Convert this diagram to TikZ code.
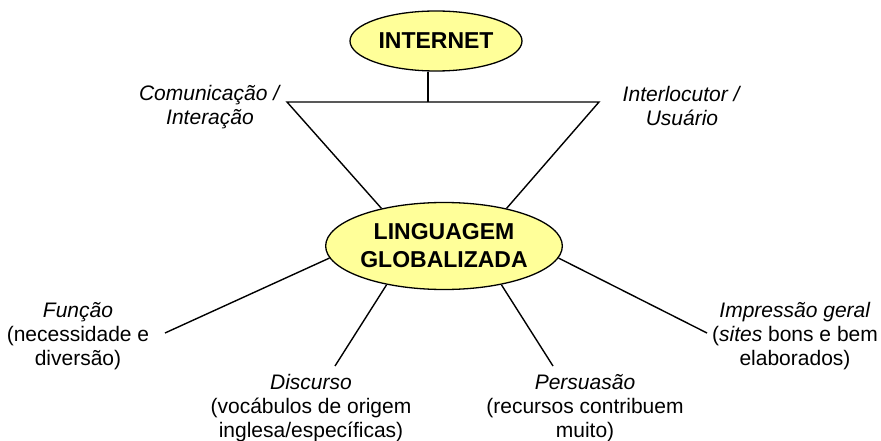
\documentclass[tikz,border=0pt]{standalone}
\usepackage{fontspec}
\setmainfont{Liberation Sans}
\usetikzlibrary{math,shapes.geometric}
\definecolor{balao}{RGB}{255,255,153}

\begin{document}
\begin{tikzpicture}[x=1pt,y=-1pt,
    bolha/.style={ellipse,draw=black,line width=1.3pt,fill=balao,inner sep=0pt,align=center,
      font=\fontsize{23}{28}\selectfont\bfseries},
    rotulo/.style={anchor=north,align=center,inner sep=0pt,font=\fontsize{21}{24}\selectfont},
    linha/.style={line width=1.4pt}]
      \tikzmath{\hy = 102; \vx = 428; \ya = 333; \yb = 366;}
      \useasboundingbox (0,0) rectangle (881,441);
      \node[bolha,minimum width=172pt,minimum height=60pt] (inet) at (436,41) {INTERNET};
      \node[bolha,minimum width=218pt,minimum height=87pt] (ling) at (444,246) {LINGUAGEM\\GLOBALIZADA};
      \coordinate (cl) at (287,\hy);
      \coordinate (cr) at (599,\hy);
      \coordinate (cm) at (\vx,\hy);
      \draw[linha] (cm) -- (cm |- inet.south);
      \draw[linha] (ling.149) -- (cl) -- (cr) -- (ling.31);
      \node[rotulo] (comu) at (210,85) {\textit{Comunicação /}\\\textit{Interação}};
      \node[rotulo] (inter) at (682,86) {\textit{Interlocutor /}\\\textit{Usuário}};
      \node[rotulo] (func) at (78,302) {\textit{Função}\\(necessidade e\\diversão)};
      \node[rotulo] (disc) at (311,374) {\textit{Discurso}\\(vocábulos de origem\\inglesa/específicas)};
      \node[rotulo] (pers) at (585,374) {\textit{Persuasão}\\(recursos contribuem\\muito)};
      \node[rotulo] (impr) at (795,302) {\textit{Impressão geral}\\(\textit{sites} bons e bem\\elaborados)};
      \coordinate (pf) at (165,\ya);
      \coordinate (pd) at (335,\yb);
      \coordinate (pp) at (553,\yb);
      \coordinate (pi) at (707,\ya);
      \draw[linha] (ling.186) -- (pf);
      \draw[linha] (ling.214) -- (pd);
      \draw[linha] (ling.326) -- (pp);
      \draw[linha] (ling.354) -- (pi);
\end{tikzpicture}
\end{document}
